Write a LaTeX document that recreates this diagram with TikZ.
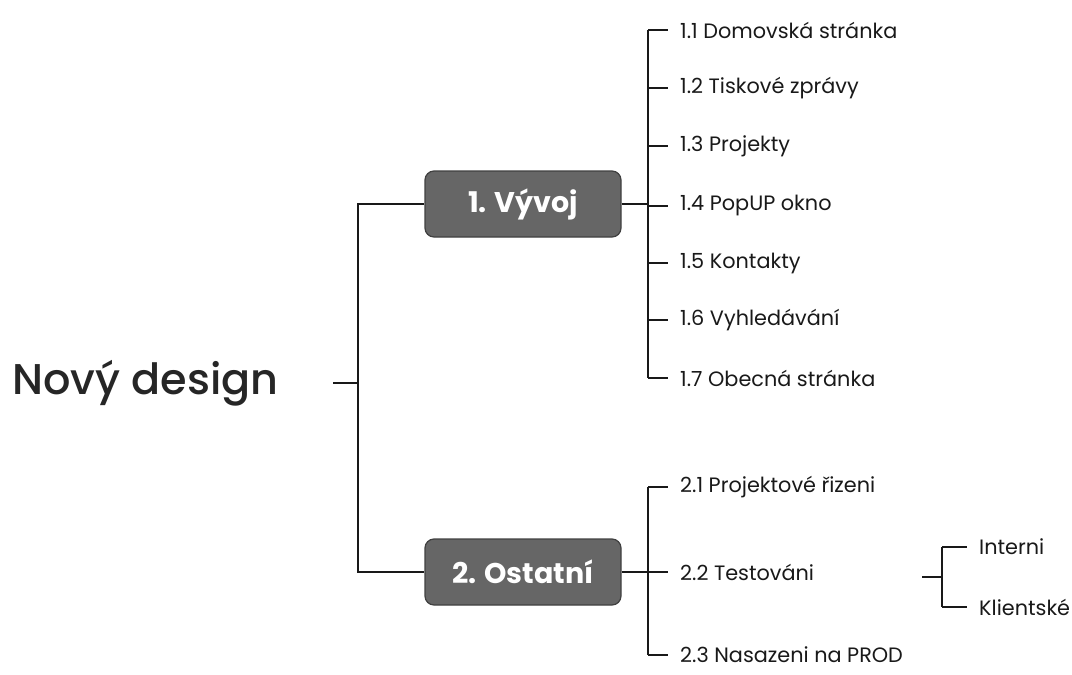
\documentclass[tikz,border=0pt]{standalone}
\usepackage{fontspec}
\setmainfont{Poppins}
\newfontfamily\titlefont{Poppins}[UprightFont=* Medium]
\usetikzlibrary{positioning,calc}
\tikzstyle{root} = [font=\titlefont\fontsize{43}{50}\selectfont, text=black!85,
  inner sep=0pt, anchor=west]
\tikzstyle{group} = [rectangle, draw=black!75, line width=1.2pt, fill=black!60,
  rounded corners=9pt, minimum width=196pt, minimum height=66pt,
  text=white, font=\fontsize{28.5}{34}\selectfont\bfseries]
\tikzstyle{item} = [font=\fontsize{20.8}{24}\selectfont, text=black!90,
  anchor=west, inner xsep=12pt, inner ysep=2pt]
\tikzstyle{line} = [draw, black!90, line width=1.3pt]

\begin{document}
\begin{tikzpicture}[x=1pt, y=-1pt]
\useasboundingbox (0,0) rectangle (1072,675);

% ==========================================
% ROOT
% ==========================================
\node[root] (design) at (12,383) {Nový design};
\coordinate (j0) at (358,383);
\draw[line] ([xshift=-25pt]j0) -- (j0);

% ==========================================
% GROUPS
% ==========================================
\node[group] (vyvoj)   at (523,204) {1. Vývoj};
\node[group] (ostatni) at (523,572) {2. Ostatní};
\draw[line] (vyvoj.west) -- (vyvoj.west -| j0) -- (ostatni.west -| j0) -- (ostatni.west);

% ==========================================
% 1. Vyvoj items
% ==========================================
\node[item] (d11) at (668,30)  {1.1 Domovská stránka};
\node[item] (d12) at (668,88)  {1.2 Tiskové zprávy};
\node[item] (d13) at (668,146) {1.3 Projekty};
\node[item] (d14) at (668,206) {1.4 PopUP okno};
\node[item] (d15) at (668,263) {1.5 Kontakty};
\node[item] (d16) at (668,320) {1.6 Vyhledávání};
\node[item] (d17) at (668,378) {1.7 Obecná stránka};

\coordinate (j1) at (648,204);
\draw[line] (vyvoj.east) -- (j1);
\draw[line] (j1 |- d11.west) -- (j1 |- d17.west);
\foreach \x in {d11,d12,d13,d14,d15,d16,d17}
  { \draw[line] (j1 |- \x.west) -- (\x.west); }

% ==========================================
% 2. Ostatni items
% ==========================================
\node[item] (o21) at (668,487) {2.1 Projektové řizeni};
\node[item] (o22) at (668,572) {2.2 Testováni};
\node[item] (o23) at (668,655) {2.3 Nasazeni na PROD};

\coordinate (j2) at (648,572);
\draw[line] (ostatni.east) -- (j2);
\draw[line] (j2 |- o21.west) -- (j2 |- o23.west);
\foreach \x in {o21,o22,o23}
  { \draw[line] (j2 |- \x.west) -- (\x.west); }

% Testovani sub-items
\node[item] (interni)  at (967,547) {Interni};
\node[item] (klient)   at (967,607) {Klientské};
\coordinate (j3) at (942,577);
\draw[line] ([xshift=-20pt]j3) -- (j3);
\draw[line] (j3 |- interni.west) -- (j3 |- klient.west);
\foreach \x in {interni,klient}
  { \draw[line] (j3 |- \x.west) -- (\x.west); }

\end{tikzpicture}
\end{document}
